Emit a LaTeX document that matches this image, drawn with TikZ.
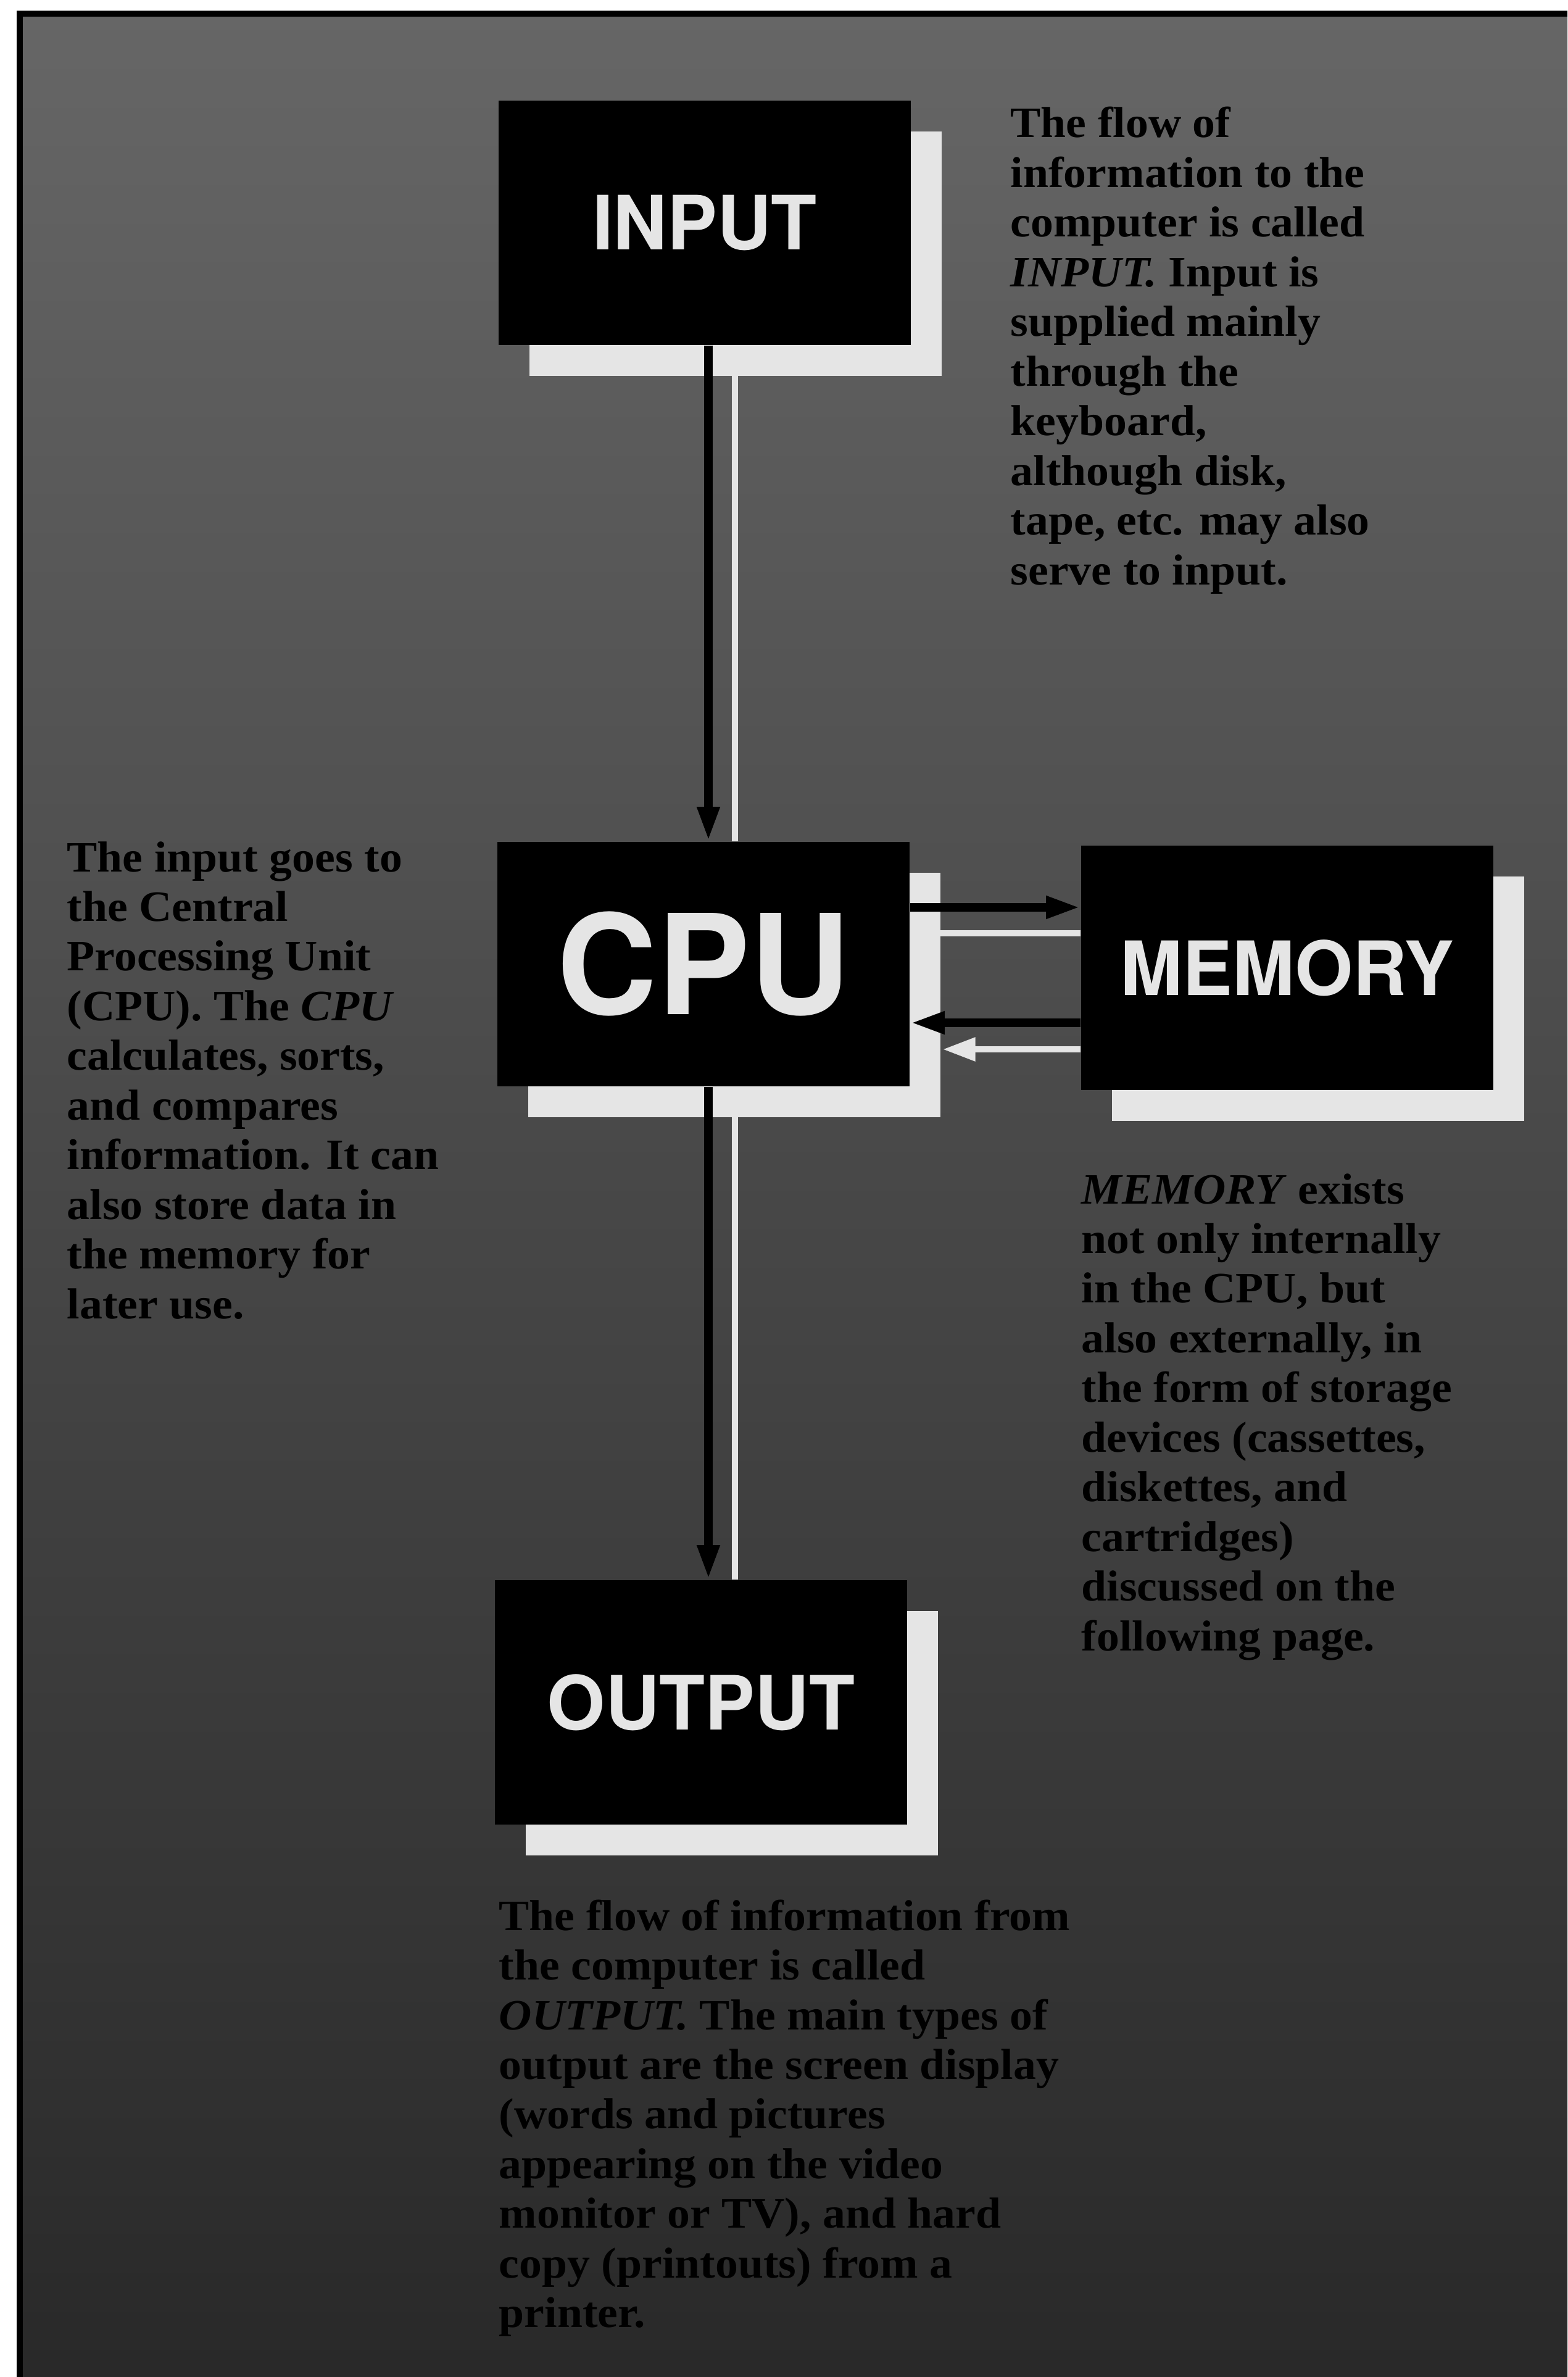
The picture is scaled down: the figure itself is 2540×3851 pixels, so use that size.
\documentclass[tikz,border=0pt]{standalone}
\usepackage{fontspec}
\setmainfont{Liberation Serif}[FakeStretch=1.05]
\newfontfamily\boxfont{TeX Gyre Heros}
\usetikzlibrary{arrows.meta,shadows}
\definecolor{bgtop}{gray}{0.40}
\definecolor{bgmid}{gray}{0.32}
\definecolor{bgbot}{gray}{0.16}
\definecolor{paper}{gray}{0.9}
\begin{document}
\begin{tikzpicture}[x=0.1mm,y=-0.1mm,
  unitbox/.style={fill=black, text=paper, inner sep=0pt,
    minimum width=66.8mm, minimum height=39.6mm,
    font=\boxfont\bfseries\fontsize{34.5pt}{40pt}\selectfont,
    drop shadow={shadow xshift=5mm, shadow yshift=-5mm, fill=paper, opacity=1}},
  blk/.style={draw=black, line width=4.2pt},
  blkarrow/.style={blk, -{Triangle[length=16pt,width=9.5pt]}},
  wht/.style={draw=paper, line width=2.6pt},
  whtarrow/.style={wht, -{Triangle[length=15pt,width=10.5pt]}},
  note/.style={anchor=base west, inner sep=0pt, text=black,
    font=\fontsize{20pt}{22.9pt}\selectfont\bfseries}
]
\useasboundingbox (0,0) rectangle (2540,3851);
\fill[white] (0,0) rectangle (2540,3851);
\shade[top color=bgtop, middle color=bgmid, bottom color=bgbot] (27,18) rectangle (2540,3851);
\draw[black, line width=2.8pt] (32,3851) -- (32,22.5) -- (2540,22.5);

% boxes
\node[unitbox] (input) at (1142,361) {INPUT};
\node[unitbox, font=\boxfont\bfseries\fontsize{64pt}{70pt}\selectfont] (cpu) at (1140,1562) {CPU};
\node[unitbox] (memory) at (2086,1568) {MEMORY};
\node[unitbox] (output) at (1136,2758) {OUTPUT};

% helper coordinates
\coordinate (bx) at (1148,0);
\coordinate (wx) at (1191,0);
\coordinate (h1) at (0,1470);
\coordinate (h2) at (0,1512);
\coordinate (h3) at (0,1657);
\coordinate (h4) at (0,1700);
\coordinate (wtip) at (1528,1700);

% white connectors
\draw[wht] (wx |- input.south) -- (wx |- cpu.north);
\draw[wht] (wx |- cpu.south) -- (wx |- output.north);
\draw[wht] (cpu.east |- h2) -- (memory.west |- h2);
\draw[whtarrow] (memory.west |- h4) -- (wtip);

% black connectors
\draw[blkarrow] (bx |- input.south) -- (bx |- cpu.north);
\draw[blkarrow] (bx |- cpu.south) -- (bx |- output.north);
\draw[blkarrow] (cpu.east |- h1) -- (memory.west |- h1);
\draw[blkarrow] (memory.west |- h3) -- (cpu.east |- h3);

% notes
\node[note] (tin) at (1637,223) {\vtop{%
\hbox{The flow of}
\hbox{information to the}
\hbox{computer is called}
\hbox{\textit{INPUT.} Input is}
\hbox{supplied mainly}
\hbox{through the}
\hbox{keyboard,}
\hbox{although disk,}
\hbox{tape, etc. may also}
\hbox{serve to input.}}};

\node[note] (tcpu) at (108,1412) {\vtop{%
\hbox{The input goes to}
\hbox{the Central}
\hbox{Processing Unit}
\hbox{(CPU). The \textit{CPU}}
\hbox{calculates, sorts,}
\hbox{and compares}
\hbox{information. It can}
\hbox{also store data in}
\hbox{the memory for}
\hbox{later use.}}};

\node[note] (tmem) at (1752,1950) {\vtop{%
\hbox{\textit{MEMORY} exists}
\hbox{not only internally}
\hbox{in the CPU, but}
\hbox{also externally, in}
\hbox{the form of storage}
\hbox{devices (cassettes,}
\hbox{diskettes, and}
\hbox{cartridges)}
\hbox{discussed on the}
\hbox{following page.}}};

\node[note] (tout) at (808,3127) {\vtop{%
\hbox{The flow of information from}
\hbox{the computer is called}
\hbox{\textit{OUTPUT.} The main types of}
\hbox{output are the screen display}
\hbox{(words and pictures}
\hbox{appearing on the video}
\hbox{monitor or TV), and hard}
\hbox{copy (printouts) from a}
\hbox{printer.}}};
\end{tikzpicture}
\end{document}
